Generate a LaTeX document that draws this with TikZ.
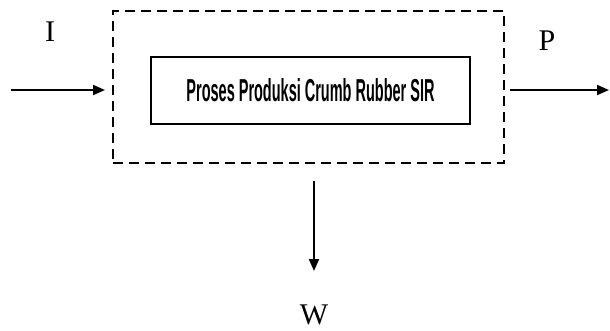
\documentclass[tikz,border=0pt]{standalone}
\usepackage{fontspec}
\setmainfont{Liberation Serif}
\setsansfont{Liberation Sans}
\usetikzlibrary{arrows.meta}
\tikzset{
  flow/.style={line width=2pt,-{Triangle[length=12pt,width=10pt]}},
  boundary/.style={draw,line width=1.5pt,dash pattern=on 10pt off 6pt},
  process/.style={draw,line width=1.5pt,inner sep=0pt},
  lbl/.style={font=\fontsize{30}{32}\selectfont,inner sep=0pt}
}
\begin{document}
\begin{tikzpicture}[x=1pt,y=-1pt]
  \useasboundingbox (0,0) rectangle (610,330);
  % system boundary and the process inside it
  \node[boundary,minimum width=391pt,minimum height=152pt] (sys) at (308.5,87) {};
  \node[process,minimum width=319pt,minimum height=67pt] (proc) at (310.5,90.5)
    {\resizebox{248pt}{23pt}{\sffamily\bfseries Proses Produksi Crumb Rubber SIR}};
  % flow ends
  \coordinate (in) at (11,90);
  \coordinate (inend) at (105,90);
  \coordinate (outstart) at (510,90);
  \coordinate (out) at (609,90);
  \coordinate (wstart) at (314,181);
  \coordinate (wend) at (314,271);
  \draw[flow] (in) -- (inend);
  \draw[flow] (outstart) -- (out);
  \draw[flow] (wstart) -- (wend);
  % stream labels
  \node[lbl] (I) at (50,32) {I};
  \node[lbl] (P) at (547,41) {P};
  \node[lbl] (W) at (314,315) {W};
\end{tikzpicture}
\end{document}
